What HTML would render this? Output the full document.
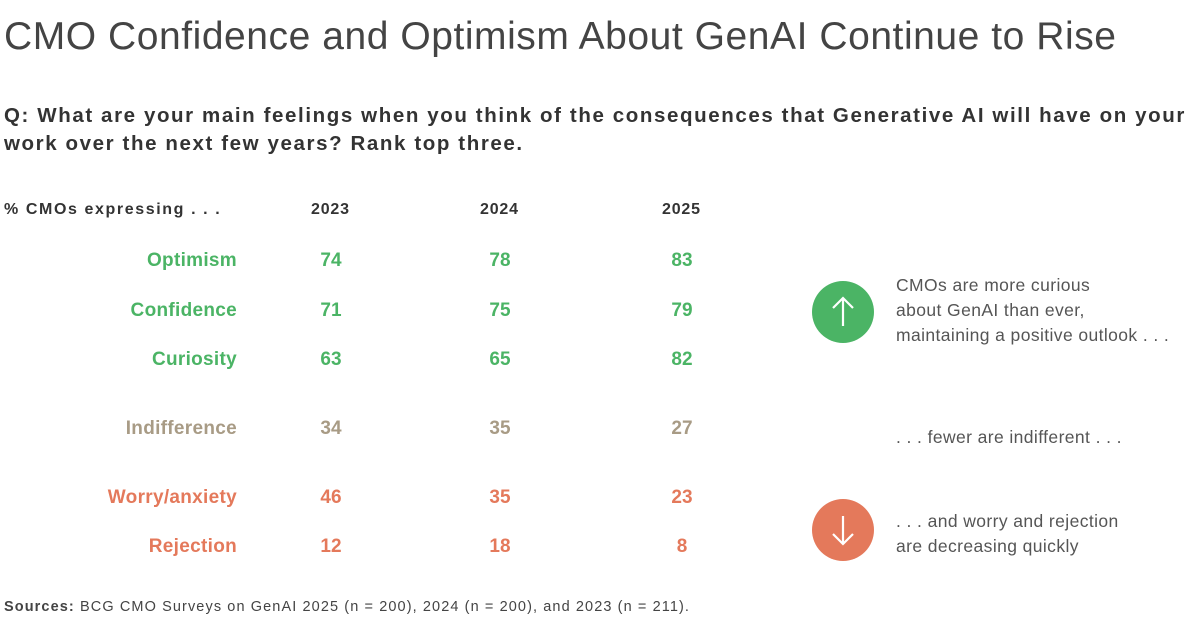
<!DOCTYPE html>
<html><head><meta charset="utf-8"><style>
body{margin:0;width:1200px;height:630px;background:#fff;font-family:"Liberation Sans",sans-serif;position:relative;overflow:hidden;color:#333}
.a{position:absolute;white-space:nowrap;line-height:1}
.t{left:4px;top:17px;font-size:39px;color:#444;font-weight:300;letter-spacing:0.55px}
.q{left:4px;font-size:20.5px;font-weight:bold;color:#333;letter-spacing:1.6px}
.h{top:202px;font-size:16px;font-weight:bold;color:#333}
.l{right:963px;font-size:19px;font-weight:bold;text-align:right;letter-spacing:0.3px}
.n{font-size:19px;font-weight:bold;width:60px;text-align:center}
.g{color:#4bb465}.b{color:#a89b85}.o{color:#e4795b}
.c{width:62px;height:62px;border-radius:50%;left:812px;color:#fff;font-size:34px;text-align:center;line-height:60px}
.r{left:896px;font-size:17.5px;color:#555;line-height:25px;letter-spacing:0.4px}
.s{left:4px;top:600px;font-size:14.5px;color:#444;letter-spacing:1.1px}
</style></head><body>
<div class="a t">CMO Confidence and Optimism About GenAI Continue to Rise</div>
<div class="a q" style="top:106px">Q: What are your main feelings when you think of the consequences that Generative AI will have on your</div>
<div class="a q" style="top:134px">work over the next few years? Rank top three.</div>
<div class="a h" style="left:4px;letter-spacing:1.6px">% CMOs expressing . . .</div>
<div class="a h" style="left:311px;letter-spacing:0.8px">2023</div>
<div class="a h" style="left:480px;letter-spacing:0.8px">2024</div>
<div class="a h" style="left:662px;letter-spacing:0.8px">2025</div>

<div class="a l g" style="top:251px">Optimism</div>
<div class="a l g" style="top:301px">Confidence</div>
<div class="a l g" style="top:350px">Curiosity</div>
<div class="a l b" style="top:419px">Indifference</div>
<div class="a l o" style="top:488px">Worry/anxiety</div>
<div class="a l o" style="top:537px">Rejection</div>

<div class="a n g" style="left:301px;top:251px">74</div><div class="a n g" style="left:470px;top:251px">78</div><div class="a n g" style="left:652px;top:251px">83</div>
<div class="a n g" style="left:301px;top:301px">71</div><div class="a n g" style="left:470px;top:301px">75</div><div class="a n g" style="left:652px;top:301px">79</div>
<div class="a n g" style="left:301px;top:350px">63</div><div class="a n g" style="left:470px;top:350px">65</div><div class="a n g" style="left:652px;top:350px">82</div>
<div class="a n b" style="left:301px;top:419px">34</div><div class="a n b" style="left:470px;top:419px">35</div><div class="a n b" style="left:652px;top:419px">27</div>
<div class="a n o" style="left:301px;top:488px">46</div><div class="a n o" style="left:470px;top:488px">35</div><div class="a n o" style="left:652px;top:488px">23</div>
<div class="a n o" style="left:301px;top:537px">12</div><div class="a n o" style="left:470px;top:537px">18</div><div class="a n o" style="left:652px;top:537px">8</div>

<div class="a c" style="top:281px;background:#4bb465"><svg width="62" height="62"><path d="M31 17V45M21 27L31 17L41 27" stroke="#fff" stroke-width="2.2" fill="none"/></svg></div>
<div class="a c" style="top:499px;background:#e4795b"><svg width="62" height="62"><path d="M31 17V45M21 35L31 45L41 35" stroke="#fff" stroke-width="2.2" fill="none"/></svg></div>
<div class="a r" style="top:273px">CMOs are more curious<br>about GenAI than ever,<br>maintaining a positive outlook . . .</div>
<div class="a r" style="top:425px">. . . fewer are indifferent . . .</div>
<div class="a r" style="top:509px">. . . and worry and rejection<br>are decreasing quickly</div>
<div class="a s"><b>Sources:</b> BCG CMO Surveys on GenAI 2025 (n = 200), 2024 (n = 200), and 2023 (n = 211).</div>
</body></html>
